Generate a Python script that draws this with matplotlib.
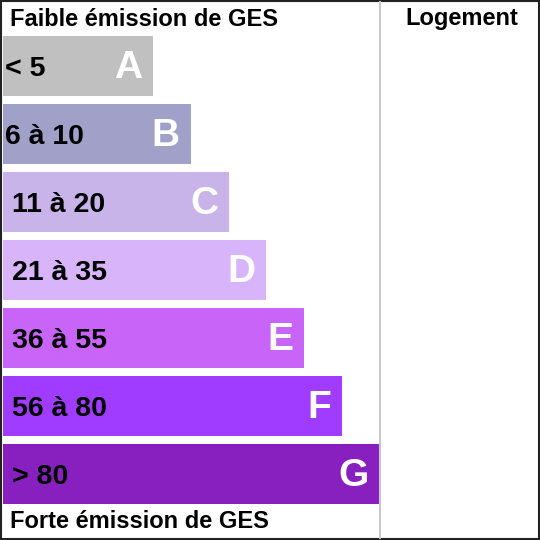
import matplotlib.pyplot as plt
from matplotlib.patches import Rectangle

letters = ['A', 'B', 'C', 'D', 'E', 'F', 'G']
ranges = ['< 5', '6 à 10', '11 à 20', '21 à 35', '36 à 55', '56 à 80', '> 80']
bar_ends = [153, 191, 229, 266, 304, 342, 380]
colors = ['#c0c0c0', '#a0a0c8', '#c8b4e8', '#d8b4fa', '#c864f8', '#a03cff', '#8820c0']
title_top = 'Faible émission de GES'
title_bottom = 'Forte émission de GES'
column_title = 'Logement'

plt.rcParams['font.family'] = ['Liberation Sans', 'DejaVu Sans']

fig = plt.figure(figsize=(5.4, 5.4), dpi=100)
ax = fig.add_axes([0, 0, 1, 1])
ax.set_xlim(0, 540)
ax.set_ylim(540, 0)
ax.axis('off')

left = 3
ys = [66 + 68 * i for i in range(len(letters))]
widths = [e - left for e in bar_ends]
ax.barh(ys, widths, left=left, height=60, color=colors)

for i, (y, end) in enumerate(zip(ys, bar_ends)):
    x0 = 5 if i < 2 else 12
    ax.text(x0, y + 3, ranges[i], ha='left', va='center', fontsize=20.5,
            fontweight='bold', color='black')
    ax.text(end - 11, y + 2, letters[i], ha='right', va='center', fontsize=28,
            fontweight='bold', color='white')

ax.text(10, 19, title_top, ha='left', va='center', fontsize=17, fontweight='bold')
ax.text(10, 521, title_bottom, ha='left', va='center', fontsize=17, fontweight='bold')
ax.text(462, 19, column_title, ha='center', va='center', fontsize=17, fontweight='bold')

ax.plot([380, 380], [2, 538], color='#c8c8c8', lw=1.5)
ax.add_patch(Rectangle((1, 1), 538, 538, fill=False, edgecolor='#222222', lw=1.5))

fig.savefig('out.png', dpi=100)
